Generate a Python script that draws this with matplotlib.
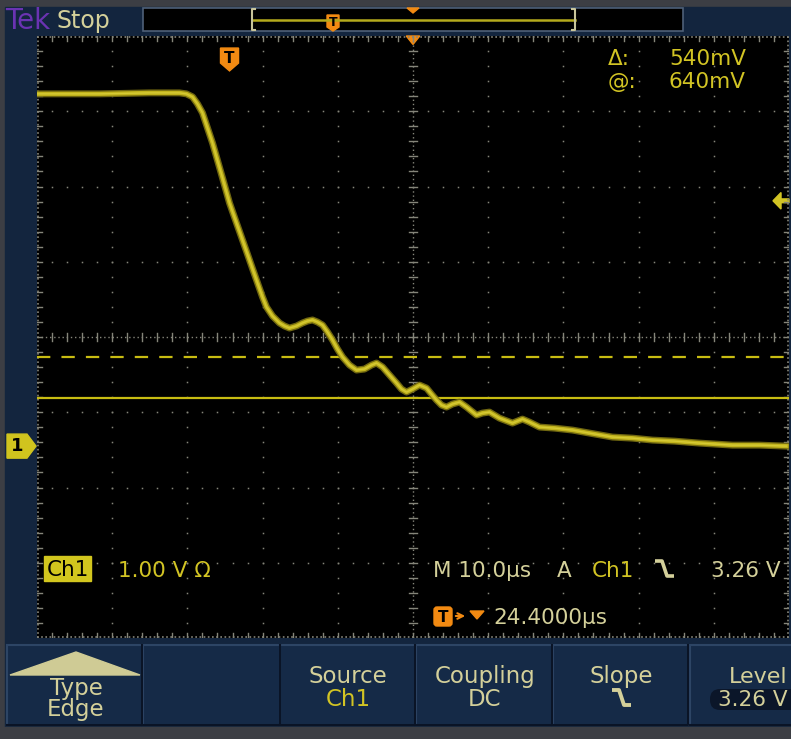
import matplotlib
matplotlib.use("Agg")
import matplotlib.pyplot as plt
from matplotlib.patches import Rectangle, Polygon, FancyBboxPatch

# ---------------- data ----------------
time_us = [-25.66, -17.29, -10.64, -6.65, -5.72, -4.92, -4.26, -3.59, -2.93, -2.26,
           -1.73, -0.93, 0.00, 0.93, 1.73, 2.66, 3.59, 4.39, 4.92, 5.72,
           6.65, 7.31, 7.98, 8.91, 9.71, 10.37, 11.04, 11.70, 12.37, 13.03,
           13.70, 14.36, 15.03, 15.96, 16.89, 17.95, 18.88, 19.55, 20.35, 21.28,
           22.21, 22.87, 23.54, 24.34, 25.27, 26.20, 26.86, 27.53, 28.19, 28.86,
           29.65, 30.59, 31.52, 32.85, 33.64, 34.57, 35.90, 37.63, 38.96, 39.89,
           41.22, 43.22, 45.61, 47.87, 50.93, 53.59, 56.25, 59.18, 62.50, 66.89,
           70.48, 74.07]
ch1_volts = [4.681, 4.681, 4.694, 4.694, 4.681, 4.641, 4.548, 4.428, 4.229, 4.029,
             3.843, 3.564, 3.231, 2.965, 2.739, 2.473, 2.207, 1.981, 1.848, 1.729,
             1.636, 1.596, 1.569, 1.596, 1.636, 1.662, 1.676, 1.649, 1.609, 1.516,
             1.410, 1.290, 1.184, 1.077, 1.011, 1.024, 1.077, 1.104, 1.051, 0.944,
             0.838, 0.758, 0.718, 0.758, 0.811, 0.771, 0.691, 0.612, 0.545, 0.519,
             0.559, 0.585, 0.519, 0.412, 0.439, 0.452, 0.372, 0.306, 0.359, 0.319,
             0.253, 0.239, 0.213, 0.173, 0.120, 0.106, 0.080, 0.066, 0.040, 0.013,
             0.013, 0.000]

volts_per_div = 1.0
us_per_div = 10.0
trigger_delay_us = 24.4
trigger_level_v = 3.26
ch1_position_div = -1.45
cursor_a_v = 0.64
cursor_b_v = 1.18

# ---------------- colours ----------------
BEIGE = "#d4d09a"
YEL = "#d2c424"
TRACE = "#c2b41c"
ORANGE = "#f28a12"
NAVY = "#13253e"
BTN = "#152a47"
GRID = "#85857a"

W, H = 791, 739
fig = plt.figure(figsize=(W / 100, H / 100), dpi=100)
fig.patch.set_facecolor("#3c3e44")

# background (pixel coordinates)
bg = fig.add_axes([0, 0, 1, 1])
bg.set_xlim(0, W)
bg.set_ylim(H, 0)
bg.axis("off")
bg.set_zorder(0)

bg.add_patch(Rectangle((5, 7), W - 5, 720, color=NAVY))
# top bar
bg.text(5, 29, "Tek", color="#6a33b2", fontsize=20, va="baseline")
bg.text(57, 28, "Stop", color=BEIGE, fontsize=17, va="baseline")
bg.add_patch(Rectangle((143, 8), 540, 23, facecolor="black", edgecolor="#4f6078", lw=1.2))
bg.plot([252, 575], [19.5, 19.5], color="#b4aa1c", lw=1.8)
bg.plot([255, 252, 252, 255], [9, 9, 30, 30], color="#c8c49a", lw=1.5)
bg.plot([572, 575, 575, 572], [9, 9, 30, 30], color="#c8c49a", lw=1.5)
bg.add_patch(Polygon([(327, 15), (339, 15), (339, 27), (333, 31), (327, 27)], color=ORANGE))
bg.text(333, 23, "T", color="black", fontsize=9, fontweight="bold", ha="center", va="center")
bg.add_patch(Polygon([(407, 8), (419, 8), (413, 13)], color=ORANGE))

# bottom buttons
buttons = [(7, 135), (143, 137), (280, 135), (416, 136), (553, 135), (690, 110)]
for bx, bw in buttons:
    bg.add_patch(Rectangle((bx, 645), bw, 80, facecolor=BTN, edgecolor="#2d4565", lw=1.5))
    bg.plot([bx + bw, bx + bw, bx], [645, 725, 725], color="#0a1426", lw=1.5)
bg.add_patch(Rectangle((0, 727), W, 12, color="#3c3e44"))
bg.add_patch(Polygon([(10, 675), (76, 652), (140, 675)], color="#cfcb95"))
bg.text(76, 695, "Type", color=BEIGE, fontsize=16.5, ha="center", va="baseline")
bg.text(76, 716, "Edge", color=BEIGE, fontsize=16.5, ha="center", va="baseline")
bg.text(348, 683, "Source", color=BEIGE, fontsize=16.5, ha="center", va="baseline")
bg.text(348, 706, "Ch1", color=YEL, fontsize=16.5, ha="center", va="baseline")
bg.text(485, 683, "Coupling", color=BEIGE, fontsize=16.5, ha="center", va="baseline")
bg.text(485, 706, "DC", color=BEIGE, fontsize=16.5, ha="center", va="baseline")
bg.text(621, 683, "Slope", color=BEIGE, fontsize=16.5, ha="center", va="baseline")
bg.plot([612, 619, 624, 631], [690, 690, 705, 705], color=BEIGE, lw=2.8, solid_capstyle="butt")
bg.text(729, 683, "Level", color=BEIGE, fontsize=16, ha="left", va="baseline")
bg.add_patch(FancyBboxPatch((710, 689), 95, 21, boxstyle="round,pad=0,rounding_size=10",
                            facecolor="#0b1629", edgecolor="none"))
bg.text(718, 706, f"{trigger_level_v:.2f} V", color=BEIGE, fontsize=15.5, ha="left", va="baseline")

# ---------------- graticule axes ----------------
gx0, gx1, gy0, gy1 = 37, 789, 36, 638
ax = fig.add_axes([gx0 / W, 1 - gy1 / H, (gx1 - gx0) / W, (gy1 - gy0) / H])
ax.set_zorder(1)
ax.set_facecolor("black")
center_t = trigger_delay_us
center_v = -ch1_position_div * volts_per_div
xlo, xhi = center_t - 5 * us_per_div, center_t + 5 * us_per_div
ylo, yhi = center_v - 4 * volts_per_div, center_v + 4 * volts_per_div
ax.set_xlim(xlo, xhi)
ax.set_ylim(ylo, yhi)
ax.set_xticks([])
ax.set_yticks([])
for s in ax.spines.values():
    s.set_visible(False)

px_t = us_per_div / 75.2
px_v = volts_per_div / 75.2
sub_t = [xlo + k * us_per_div / 5 for k in range(1, 50)]
sub_v = [ylo + k * volts_per_div / 5 for k in range(1, 40)]

# dotted grid lines
for k in range(1, 10):
    if k == 5:
        continue
    xg = xlo + k * us_per_div
    ax.plot([xg] * len(sub_v), sub_v, ls="none", marker="s", ms=1.1, color=GRID, mew=0)
for k in range(1, 8):
    if k == 4:
        continue
    yg = ylo + k * volts_per_div
    ax.plot(sub_t, [yg] * len(sub_t), ls="none", marker="s", ms=1.1, color=GRID, mew=0)

# centre lines with sub-division tick marks
ax.plot([center_t, center_t], [ylo, yhi], color=GRID, lw=1, ls=(0, (1, 2)))
ax.plot([xlo, xhi], [center_v, center_v], color=GRID, lw=1, ls=(0, (1, 2)))
for v in sub_v:
    ax.plot([center_t - 4 * px_t, center_t + 4 * px_t], [v, v], color=GRID, lw=1)
for t in sub_t:
    ax.plot([t, t], [center_v - 4 * px_v, center_v + 4 * px_v], color=GRID, lw=1)

# border with inward ticks
for yb, sgn in ((ylo, 1), (yhi, -1)):
    ax.plot([xlo, xhi], [yb + sgn * px_v, yb + sgn * px_v], color=GRID, lw=1.2, ls=(0, (1, 1.5)))
    for t in sub_t:
        ax.plot([t, t], [yb, yb + sgn * 5 * px_v], color=GRID, lw=1)
for xb, sgn in ((xlo, 1), (xhi, -1)):
    ax.plot([xb + sgn * px_t, xb + sgn * px_t], [ylo, yhi], color=GRID, lw=1.2, ls=(0, (1, 1.5)))
    for v in sub_v:
        ax.plot([xb, xb + sgn * 5 * px_t], [v, v], color=GRID, lw=1)

# cursors
ax.axhline(cursor_a_v, color="#c8bc12", lw=1.6)
ax.axhline(cursor_b_v, color="#c8bc12", lw=1.6, ls=(0, (6, 5)))

# waveform
ax.plot(time_us, ch1_volts, color="#7c7212", lw=5.0, alpha=0.9, solid_joinstyle="round")
ax.plot(time_us, ch1_volts, color=TRACE, lw=3.0, solid_joinstyle="round")
ax.plot(time_us, ch1_volts, color="#d6ca36", lw=1.0, solid_joinstyle="round")

# trigger markers
xt = ax.get_xaxis_transform()
yt = ax.get_yaxis_transform()
ax.add_patch(Polygon([(-1.2, 0.98), (1.2, 0.98), (1.2, 0.955), (0, 0.942), (-1.2, 0.955)],
                     transform=xt, color=ORANGE, clip_on=False))
ax.text(0, 0.963, "T", transform=xt, color="black", fontsize=11, fontweight="bold",
        ha="center", va="center")
ax.add_patch(Polygon([(center_t - 0.9, 1.0), (center_t + 0.9, 1.0), (center_t, 0.986)],
                     transform=xt, color=ORANGE, clip_on=False))
ax.add_patch(Polygon([(0.9787, trigger_level_v), (0.9894, trigger_level_v + 0.11),
                      (0.9894, trigger_level_v + 0.025), (1.0, trigger_level_v + 0.025),
                      (1.0, trigger_level_v - 0.025), (0.9894, trigger_level_v - 0.025),
                      (0.9894, trigger_level_v - 0.11)],
                     transform=yt, color=YEL, clip_on=False))
# ground marker
ax.add_patch(Polygon([(-0.0399, 0.16), (-0.0133, 0.16), (-0.0013, 0.0),
                      (-0.0133, -0.16), (-0.0399, -0.16)],
                     transform=yt, color="#d0c41e", clip_on=False))
ax.text(-0.027, 0.0, "1", transform=yt, color="black", fontsize=13, fontweight="bold",
        ha="center", va="center", clip_on=False)

# ---------------- overlay texts (pixel coordinates) ----------------
ov = fig.add_axes([0, 0, 1, 1])
ov.set_zorder(2)
ov.set_xlim(0, W)
ov.set_ylim(H, 0)
ov.axis("off")
ov.patch.set_alpha(0)

ov.text(608, 65, "Δ:", color=YEL, fontsize=15.5, va="baseline")
ov.text(669, 65, f"{(cursor_b_v - cursor_a_v) * 1000:.0f}mV", color=YEL, fontsize=15.5, va="baseline")
ov.text(608, 88, "@:", color=YEL, fontsize=15.5, va="baseline")
ov.text(669, 88, f"{cursor_a_v * 1000:.0f}mV", color=YEL, fontsize=15.5, va="baseline")

ov.add_patch(Rectangle((44, 556), 47, 25, color="#d2c61e"))
ov.text(67.5, 576, "Ch1", color="black", fontsize=15.5, ha="center", va="baseline")
ov.text(118, 577, f"{volts_per_div:.2f} V Ω", color=YEL, fontsize=15.5, va="baseline")
ov.text(433, 577, f"M {us_per_div:.1f}µs", color=BEIGE, fontsize=15.5, va="baseline")
ov.text(557, 577, "A", color=BEIGE, fontsize=15.5, va="baseline")
ov.text(592, 577, "Ch1", color=YEL, fontsize=15.5, va="baseline")
ov.plot([655, 662, 667, 674], [561, 561, 576, 576], color=BEIGE, lw=2.6, solid_capstyle="butt")
ov.text(781, 577, f"{trigger_level_v:.2f} V", color=BEIGE, fontsize=15.5, ha="right", va="baseline")

ov.add_patch(FancyBboxPatch((434, 607), 18, 19, boxstyle="round,pad=0,rounding_size=3", color=ORANGE))
ov.text(443, 617, "T", color="black", fontsize=11, fontweight="bold", ha="center", va="center")
ov.annotate("", xy=(468, 616), xytext=(453, 616),
            arrowprops=dict(arrowstyle="->", color=ORANGE, lw=1.5))
ov.add_patch(Polygon([(470, 611), (484, 611), (477, 619)], color=ORANGE))
ov.text(493, 624, f"{trigger_delay_us:.4f}µs", color=BEIGE, fontsize=15.5, va="baseline")

fig.savefig("out.png", dpi=100, facecolor=fig.get_facecolor())
